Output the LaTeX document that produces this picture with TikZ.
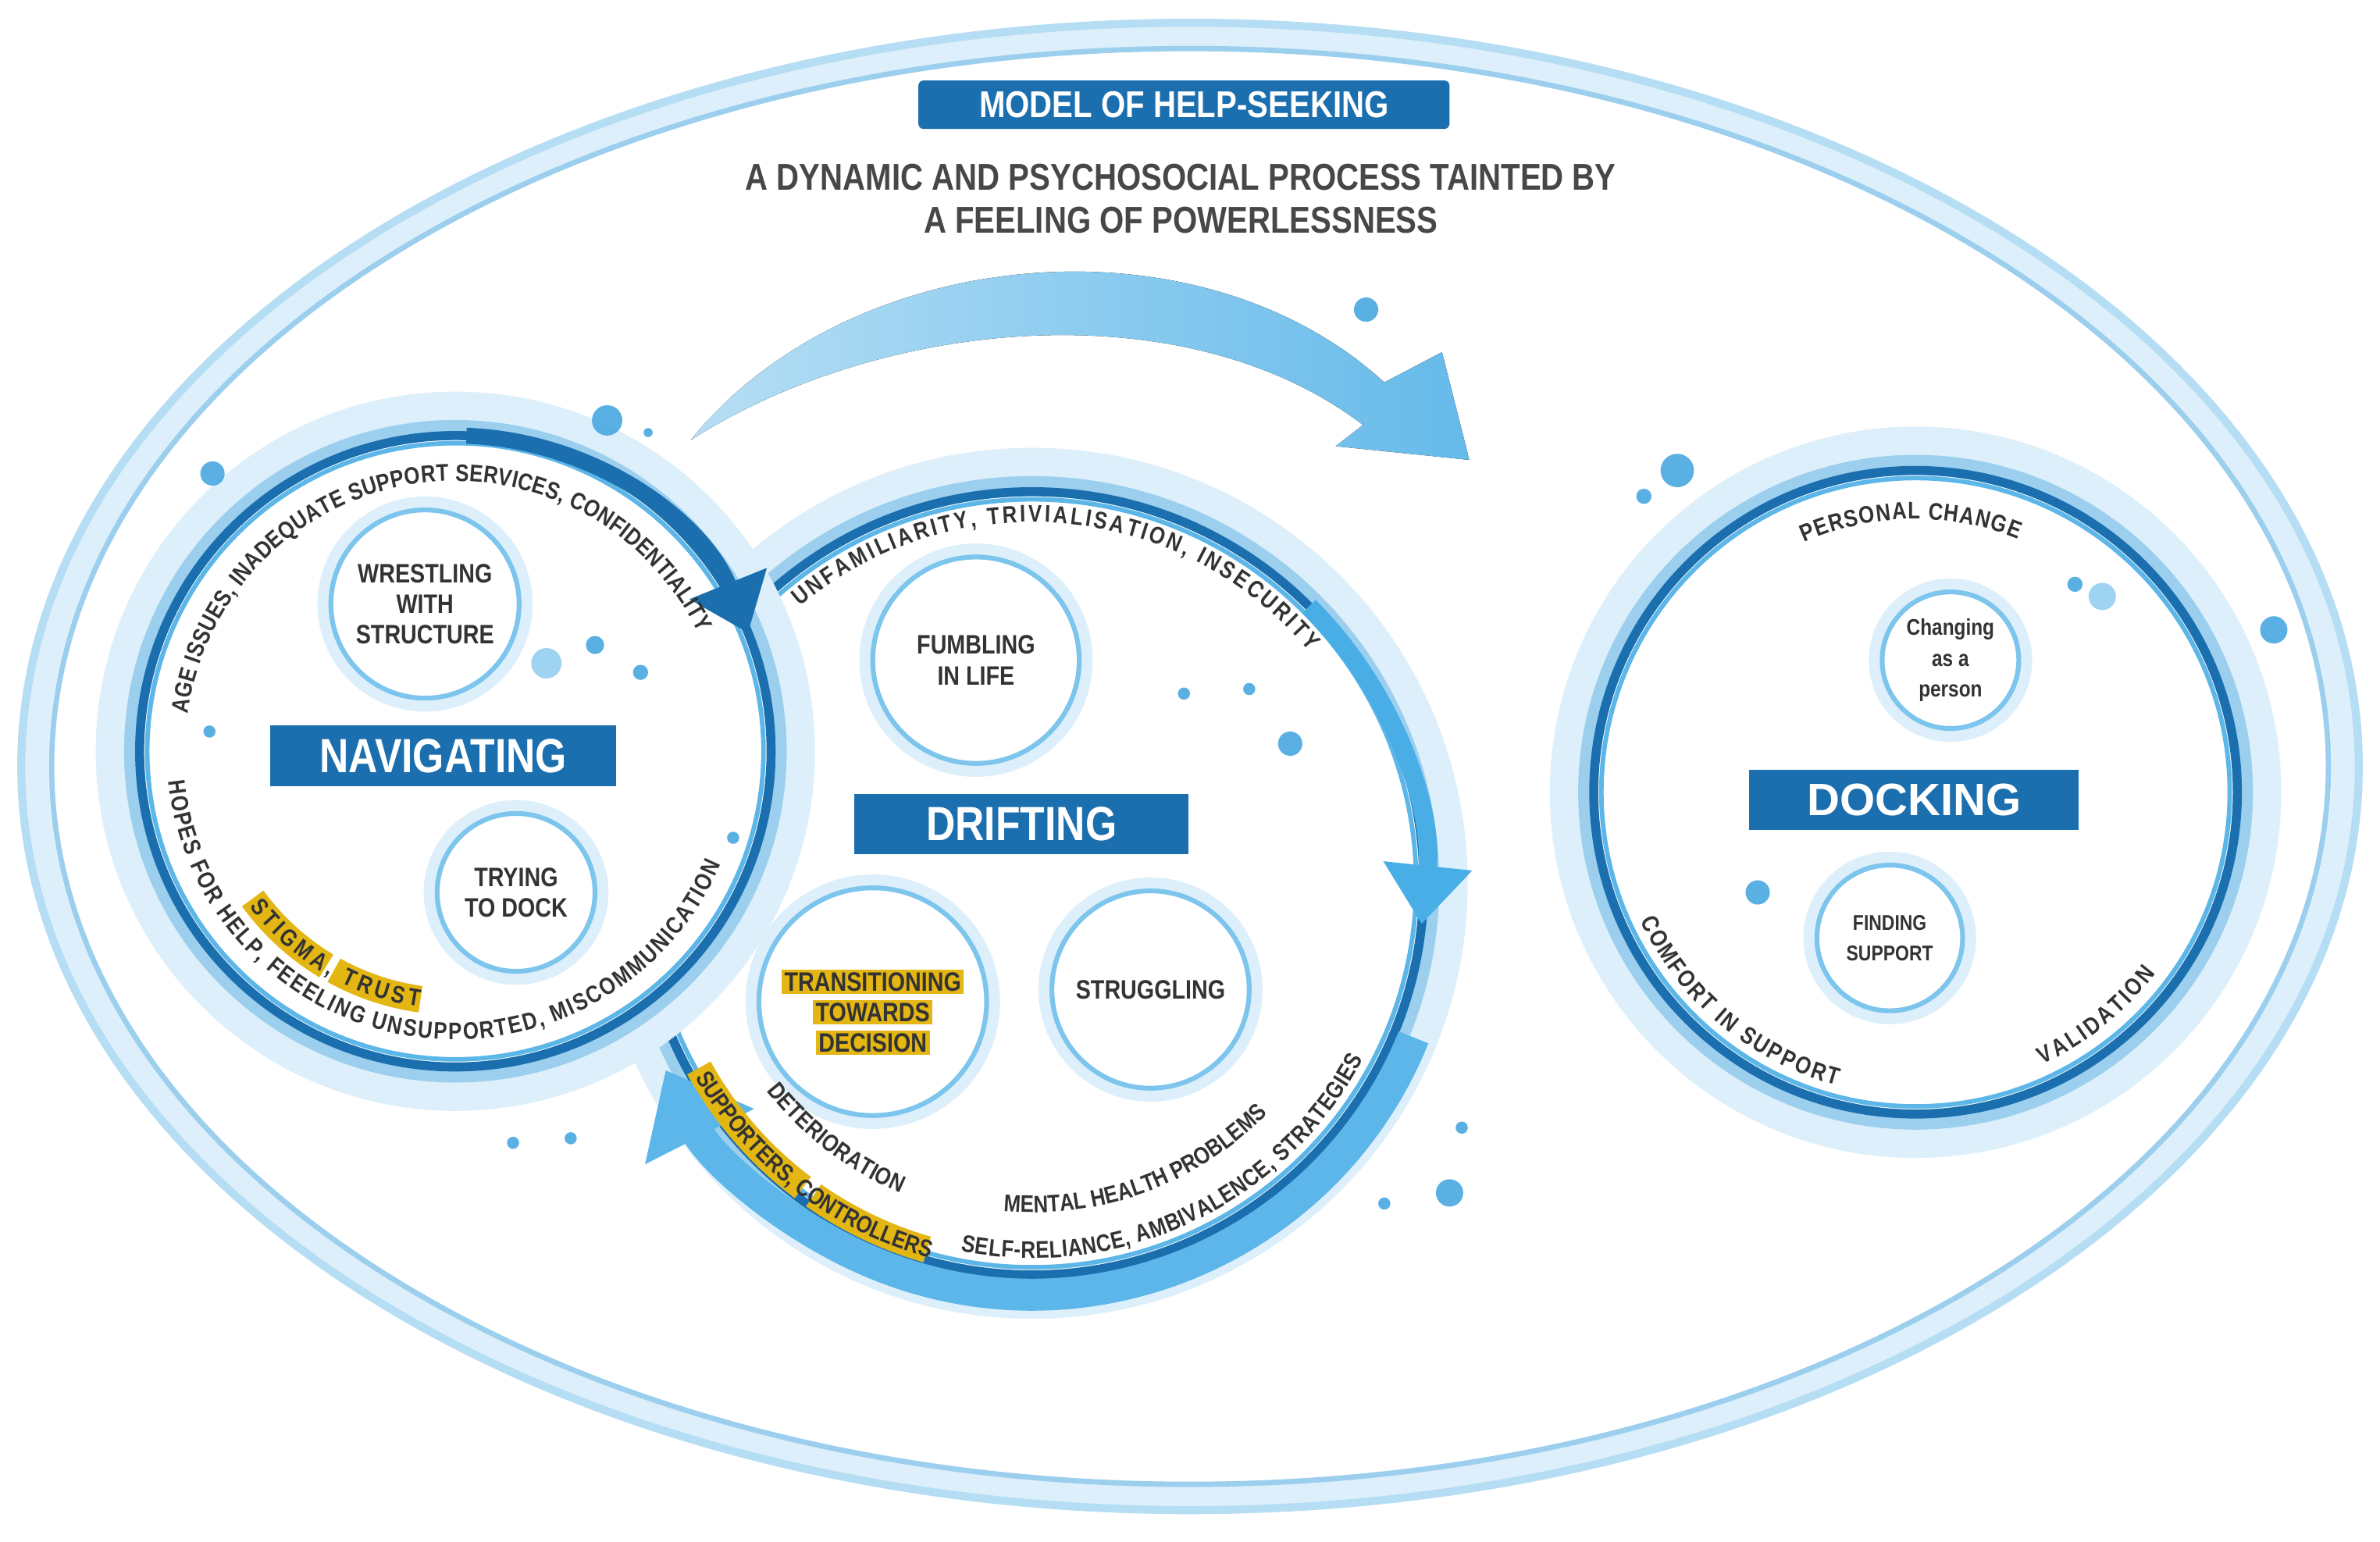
\documentclass[tikz,border=0pt]{standalone}
\usepackage{fontspec}
\setmainfont{Liberation Sans}[FakeStretch=0.84]
\newfontfamily\wide{Liberation Sans}
\usetikzlibrary{decorations.text,arrows.meta,calc}
\definecolor{dblue}{HTML}{1B6FAE}
\definecolor{mblue}{HTML}{9CCFEE}
\definecolor{lblue}{HTML}{5DB6E8}
\definecolor{halo}{HTML}{DCEFFA}
\definecolor{ablue}{HTML}{4AAEE6}
\definecolor{dotblue}{HTML}{3FA3DF}
\definecolor{tgray}{HTML}{333333}
\definecolor{hl}{HTML}{E3B613}
\definecolor{oring}{HTML}{B5DDF3}
\newcommand\bigring[2]{%
  \fill[white] (#1) circle[radius=#2];
  \draw[line width=17pt,halo] (#1) circle[radius=#2+14];
  \draw[line width=6pt,mblue] (#1) circle[radius=#2+5];
  \draw[line width=3.4pt,dblue] (#1) circle[radius=#2];
  \draw[line width=1.7pt,lblue] (#1) circle[radius=#2-5];}
\newcommand\smallc[5]{%
  \draw[line width=5.5pt,halo] (#2) circle[radius=#3+4];
  \draw[line width=1.8pt,lblue!80,fill=white] (#2) circle[radius=#3];
  \node[ctext,font=\bfseries\fontsize{#4}{11.5}\selectfont] (#1) at (#2) {#5};}
\newcommand\arctext[5]{%
  \path[decorate,decoration={text along path,text align={fit to path},text color=tgray,
    text={|\bfseries\fontsize{9}{9}\selectfont|#5}}]
    ($(#1)+(#3:#2)$) arc[start angle=#3,end angle=#4,radius=#2];}
\newcommand\hlarc[4]{%
  \draw[line width=10pt,hl] ($(#1)+(#3:#2)$) arc[start angle=#3,end angle=#4,radius=#2];}
\begin{document}
\begin{tikzpicture}[x=0.02cm,y=0.02cm,
  ctext/.style={align=center,text=tgray,inner sep=1pt},
  lbox/.style={fill=dblue,text=white,minimum height=0.8cm,inner sep=0pt,font=\bfseries\fontsize{18}{18}\selectfont},
  dot/.style={fill=dotblue},
  ldot/.style={fill=lblue!60}]
\useasboundingbox (0,0) rectangle (1568,-1016);
\fill[white] (0,0) rectangle (1568,-1016);
% outer ellipse
\draw[line width=9pt,halo] (784,-505) ellipse[x radius=760,y radius=482];
\draw[line width=3pt,oring] (784,-505) ellipse[x radius=770,y radius=490];
\draw[line width=2pt,mblue] (784,-505) ellipse[x radius=750,y radius=473];
% title
\node[fill=dblue,text=white,minimum width=7cm,minimum height=0.64cm,rounded corners=2pt,inner sep=0pt,
  font=\bfseries\fontsize{14}{14}\selectfont] (title) at (780,-69) {MODEL OF HELP-SEEKING};
\node[align=center,text=tgray!90,font=\bfseries\fontsize{14}{16}\selectfont] (sub) at (778,-131)
  {A DYNAMIC AND PSYCHOSOCIAL PROCESS TAINTED BY\\A FEELING OF POWERLESSNESS};
% big top arrow
\fill[left color=lblue!45,right color=ablue!85] (455,-290) .. controls (560,-160) and (790,-140) .. (912,-252)
  -- (950,-232) -- (968,-303) -- (880,-294) -- (898,-280) .. controls (780,-190) and (580,-210) .. (455,-290) -- cycle;
\coordinate (N) at (300,-495);
\coordinate (D) at (680,-582);
\coordinate (C) at (1262,-522);
% drifting
\bigring{D}{258}
\draw[ablue,line width=7pt,-{Triangle[width=32pt,length=22pt]}] ($(D)+(45:258)$) arc[start angle=45,end angle=-6,radius=258];
% navigating
\bigring{N}{208}
\draw[dblue,line width=6pt,-{Triangle[width=30pt,length=20pt]}] ($(N)+(88:208)$) arc[start angle=88,end angle=22,radius=208];
% return arrow
\draw[ablue!90,line width=12pt,-{Triangle[width=44pt,length=28pt]}] ($(D)+(-22:271)$) arc[start angle=-22,end angle=-153,radius=271];
% docking
\bigring{C}{212}
% labels
\node[lbox,minimum width=4.56cm] (nav) at (292,-498) {NAVIGATING};
\node[lbox,minimum width=4.4cm] (drift) at (673,-543) {DRIFTING};
\node[lbox,minimum width=4.34cm,font=\wide\bfseries\fontsize{17}{18}\selectfont] (dock) at (1261,-527) {DOCKING};
% small circles
\smallc{wr}{280,-398}{62}{10}{WRESTLING\\WITH\\STRUCTURE}
\smallc{td}{340,-588}{52}{10}{TRYING\\TO DOCK}
\smallc{fl}{643,-435}{68}{10}{FUMBLING\\IN LIFE}
\smallc{tr}{575,-660}{75}{10}{}
\node[fill=hl,ctext,font=\bfseries\fontsize{10}{10}\selectfont] (tr1) at (575,-647) {TRANSITIONING};
\node[fill=hl,ctext,font=\bfseries\fontsize{10}{10}\selectfont] (tr2) at (575,-667) {TOWARDS};
\node[fill=hl,ctext,font=\bfseries\fontsize{10}{10}\selectfont] (tr3) at (575,-687) {DECISION};
\smallc{st}{758,-652}{65}{10}{STRUGGLING}
\smallc{ch}{1285,-435}{45}{8.5}{Changing\\as a\\person}
\smallc{fs}{1245,-618}{48}{8}{FINDING\\SUPPORT}
% highlights
\hlarc{N}{165}{-144}{-121}
\hlarc{N}{165}{-119}{-98}
\hlarc{D}{251}{-151}{-127}
\hlarc{D}{251}{-125}{-106}
% curved texts
\arctext{N}{178}{172}{26}{AGE ISSUES, INADEQUATE SUPPORT SERVICES, CONFIDENTIALITY}
\arctext{N}{190}{186}{337}{HOPES FOR HELP, FEEELING UNSUPPORTED, MISCOMMUNICATION}
\arctext{N}{170}{-143}{-98}{STIGMA, TRUST}
\arctext{D}{238}{130}{40}{UNFAMILIARITY, TRIVIALISATION, INSECURITY}
\arctext{D}{247}{-101}{-28}{SELF-RELIANCE, AMBIVALENCE, STRATEGIES}
\arctext{D}{217}{-95}{-45}{MENTAL HEALTH PROBLEMS}
\arctext{D}{222}{-142}{-113}{DETERIORATION}
\arctext{D}{256}{-150}{-106}{SUPPORTERS, CONTROLLERS}
\arctext{C}{180}{114}{68}{PERSONAL CHANGE}
\arctext{C}{200}{-155}{-105}{COMFORT IN SUPPORT}
\arctext{C}{198}{-65}{-37}{VALIDATION}
% dots
\foreach \x/\y/\r in {140/312/8,400/277/10,392/425/6,422/443/5,138/482/4,483/552/4,780/457/4,823/454/4,850/490/8,900/204/8,1105/310/11,1083/327/5,1367/385/5,1498/415/9,1158/588/8,338/753/4,376/750/4,963/743/4,955/786/9,912/793/4,427/285/3}
  \fill[dot,opacity=0.85] (\x,-\y) circle[radius=\r];
\fill[ldot] (360,-437) circle[radius=10];
\fill[ldot] (1385,-393) circle[radius=9];
\end{tikzpicture}
\end{document}
